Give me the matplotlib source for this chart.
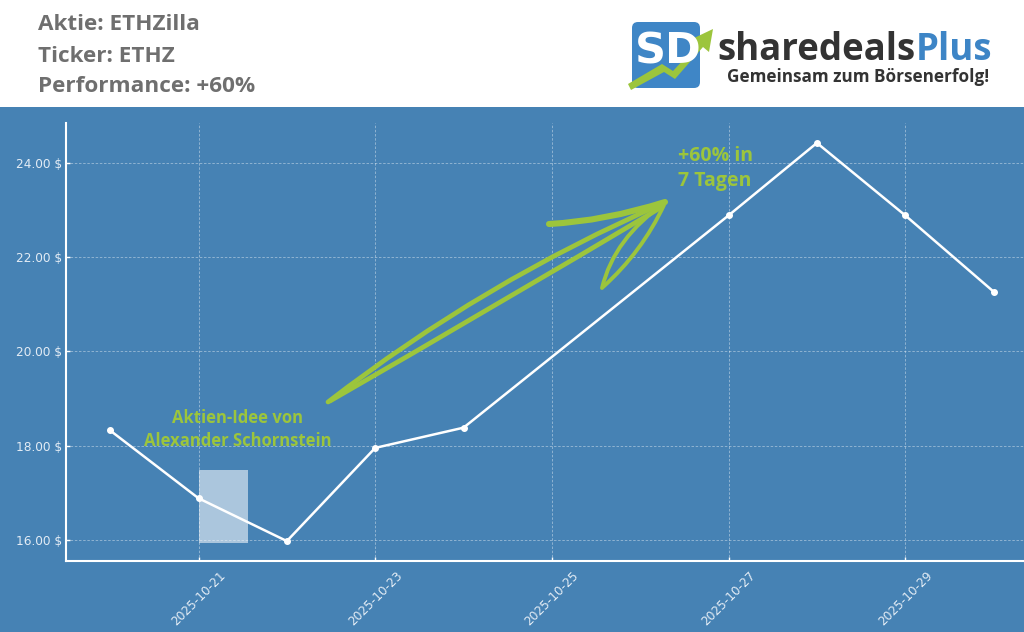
import matplotlib
matplotlib.use("Agg")
import matplotlib.pyplot as plt
import matplotlib.dates as mdates
import matplotlib.ticker as mticker
from matplotlib.patches import Rectangle, FancyBboxPatch, PathPatch, Polygon
from matplotlib.path import Path
from matplotlib.transforms import Affine2D
import datetime as dt

# ---- data ----
dates = ["2025-10-20", "2025-10-21", "2025-10-22", "2025-10-23", "2025-10-24",
         "2025-10-27", "2025-10-28", "2025-10-29", "2025-10-30"]
prices = [18.32, 16.88, 15.97, 17.95, 18.38, 22.89, 24.43, 22.89, 21.27]
yticks = [16, 18, 20, 22, 24]
header_lines = ["Aktie: ETHZilla", "Ticker: ETHZ", "Performance: +60%"]
note_idea = "Aktien-Idee von\nAlexander Schornstein"
note_perf = "+60% in\n7 Tagen"

BLUE = "#4682b4"
GREEN = "#9cc53c"
W, H = 1024, 632

x = [dt.datetime.strptime(d, "%Y-%m-%d") for d in dates]

fig = plt.figure(figsize=(W / 100, H / 100), dpi=100, facecolor=BLUE)
# pixel transform (top-left origin) for decorations
px = Affine2D().scale(1 / W, -1 / H).translate(0, 1) + fig.transFigure

# white header
fig.patches.append(Rectangle((0, 0), W, 107, transform=px, facecolor="white",
                             edgecolor="none", zorder=0))

for i, t in enumerate(header_lines):
    fig.text(38 / W, 1 - (25 + i * 31) / H, t, fontsize=16.2, fontweight="bold",
             color="#6f6f6f", family="Open Sans", va="center", ha="left")

# logo
fig.patches.append(FancyBboxPatch((632, 22), 68, 66, boxstyle="round,pad=0,rounding_size=6",
                                  transform=px, facecolor="#3f86c6", edgecolor="none"))
fig.text(668 / W, 1 - 52 / H, "SD", fontsize=31, fontweight="bold", color="white",
         family="DejaVu Sans", ha="center", va="center")
arr = Polygon([(628, 84), (662, 64), (673, 71), (698, 44), (692, 39), (713, 29),
               (709, 52), (703, 47), (675, 79), (664, 72), (631, 90)],
              closed=True, transform=px, facecolor=GREEN, edgecolor="none")
fig.patches.append(arr)
t1 = fig.text(717 / W, 1 - 60 / H, "sharedeals", fontsize=26.4, fontweight="bold",
              color="#333333", family="Open Sans", ha="left", va="baseline")
fig.canvas.draw()
bb = t1.get_window_extent(renderer=fig.canvas.get_renderer())
fig.text(bb.x1 / W + 0.001, 1 - 60 / H, "Plus", fontsize=26.4, fontweight="bold",
         color="#3d85c6", family="Open Sans", ha="left", va="baseline")
fig.text(727 / W, 1 - 77 / H, "Gemeinsam zum Börsenerfolg!", fontsize=12.3,
         fontweight="bold", color="#333333", family="Open Sans", ha="left", va="center")

# axes
ax = fig.add_axes([66 / W, 71 / H, 0.949, 0.693])
ax.set_facecolor(BLUE)
ax.plot(x, prices, color="white", lw=1.8, marker="o", ms=4, mfc="white", mec="white", zorder=3)

ax.set_yticks(yticks)
ax.yaxis.set_major_formatter(mticker.FuncFormatter(lambda v, p: f"{v:.2f} $"))
ax.xaxis.set_major_locator(mdates.DayLocator(bymonthday=[21, 23, 25, 27, 29]))
ax.xaxis.set_major_formatter(mdates.DateFormatter("%Y-%m-%d"))
plt.setp(ax.get_xticklabels(), rotation=45, ha="center", rotation_mode="default")
ax.tick_params(axis="x", colors="white", labelcolor="#e3ecf5", labelsize=8.7,
               length=3, width=1, direction="in", pad=5.5)
ax.tick_params(axis="y", colors="white", labelcolor="#e3ecf5", labelsize=8.7,
               length=3, width=1, direction="in", pad=3)
for s in ["top", "right"]:
    ax.spines[s].set_visible(False)
for s in ["left", "bottom"]:
    ax.spines[s].set_color("white")
    ax.spines[s].set_linewidth(1.5)
ax.grid(True, color="white", alpha=0.45, linestyle=(0, (3, 2)), linewidth=0.6)
ax.set_axisbelow(True)

# highlight rectangle
x0 = mdates.date2num(x[1])
ax.add_patch(Rectangle((x0, 15.94), 0.56, 1.55, facecolor="white", alpha=0.55,
                       edgecolor="none", zorder=2))

# annotations
ax.text(mdates.date2num(x[1]) + 0.44, 18.34, note_idea, fontsize=12, fontweight="bold",
        color=GREEN, family="Open Sans", ha="center", va="center", linespacing=1.38, zorder=4)
fig.text(715 / W, 1 - 168.5 / H, note_perf, fontsize=14, fontweight="bold",
         color=GREEN, family="Open Sans", ha="center", va="center", linespacing=1.39)

# hand-drawn arrow
def stroke(pts, lw=3.2):
    codes = [Path.MOVETO] + [Path.CURVE3] * (len(pts) - 1)
    fig.patches.append(PathPatch(Path(pts, codes), transform=px, facecolor="none",
                                 edgecolor=GREEN, lw=lw, capstyle="round", zorder=5))

stroke([(328, 402), (483, 282), (664, 203)], lw=3.4)
stroke([(330, 401), (497, 305), (660, 208)], lw=3.4)
stroke([(549, 224), (605, 221), (665, 202)], lw=4.4)
stroke([(602, 288), (614, 238), (665, 203)], lw=2.8)
stroke([(603, 287), (642, 252), (664, 205)], lw=2.8)

fig.savefig("out.png", dpi=100, facecolor=BLUE)
